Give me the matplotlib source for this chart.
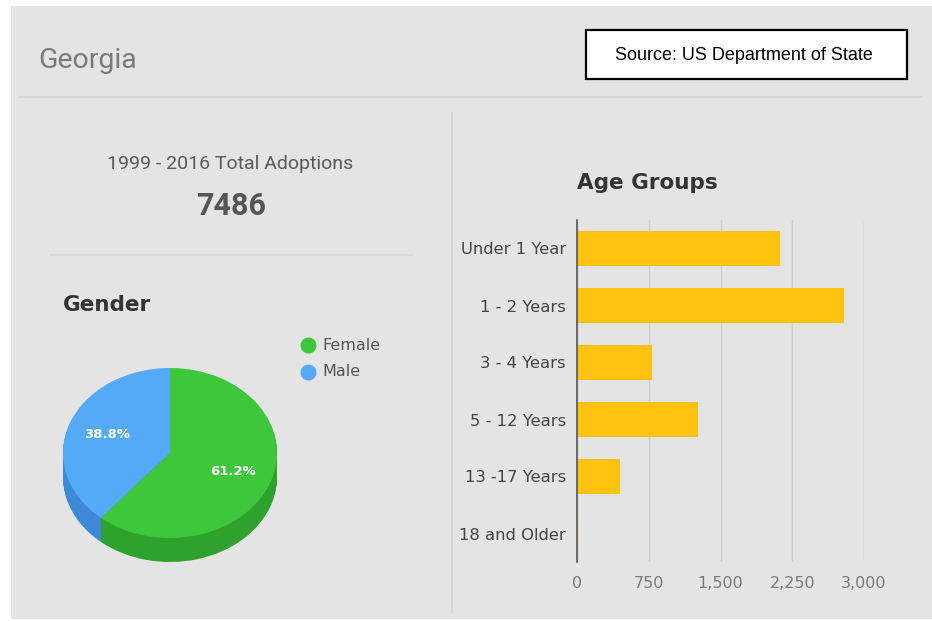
import matplotlib
matplotlib.use("Agg")
import matplotlib.pyplot as plt
from matplotlib.patches import Rectangle
import matplotlib.font_manager as fm

# ---- data ----
title = "Georgia"
source_text = "Source: US Department of State"
total_label = "1999 - 2016 Total Adoptions"
total_value = "7486"
gender_labels = ["Female", "Male"]
gender_pct = [61.2, 38.8]
age_groups = ["Under 1 Year", "1 - 2 Years", "3 - 4 Years", "5 - 12 Years",
              "13 -17 Years", "18 and Older"]
age_counts = [2122, 2793, 785, 1264, 451, 12]
x_ticks = [0, 750, 1500, 2250, 3000]

plt.rcParams["font.family"] = ["DejaVu Sans"]

W, H = 932, 621
fig = plt.figure(figsize=(W / 100, H / 100), dpi=100, facecolor="white")

def fx(px):
    return px / W

def fy(py):
    return 1 - py / H

BG = "#e4e4e4"
fig.add_artist(Rectangle((fx(11), fy(619)), fx(W - 11), (619 - 6) / H,
                         transform=fig.transFigure, facecolor=BG, edgecolor="none", zorder=0))

names = {f.name for f in fm.fontManager.ttflist}
narrow = "Liberation Sans Narrow" if "Liberation Sans Narrow" in names else "Roboto"

# title
fig.text(fx(38), fy(61), title, fontsize=20.5, color="#7a7a7a", family=narrow,
         va="center", ha="left")
# header separator
fig.add_artist(plt.Line2D([fx(20), fx(922)], [fy(97), fy(97)], transform=fig.transFigure,
                          color="#d6d6d6", lw=1.5))
# source box
fig.add_artist(Rectangle((fx(586), fy(79)), fx(907 - 586), (79 - 30) / H,
                         transform=fig.transFigure, facecolor="white",
                         edgecolor="black", lw=1.6, zorder=3))
fig.text(fx(744), fy(55), source_text, fontsize=13, color="black",
         family="Liberation Sans Narrow" if "Liberation Sans Narrow" in names else "Liberation Sans",
         ha="center", va="center", zorder=4)
# vertical divider
fig.add_artist(plt.Line2D([fx(452), fx(452)], [fy(113), fy(612)], transform=fig.transFigure,
                          color="#d6d6d6", lw=1.2))

# total adoptions
fig.text(fx(230), fy(164), total_label, fontsize=14, color="#5a5a5a", family=narrow,
         ha="center", va="center")
fig.text(fx(231), fy(206), total_value, fontsize=22, color="#555555", family=narrow,
         fontweight="semibold", ha="center", va="center")
fig.add_artist(plt.Line2D([fx(50), fx(412)], [fy(255), fy(255)], transform=fig.transFigure,
                          color="#d6d6d6", lw=1.2))

# ---- Gender pie (pseudo 3D) ----
fig.text(fx(63), fy(305), "Gender", fontsize=15.5, fontweight="bold", color="#333333",
         ha="left", va="center")

cx, cy, rx, ry, depth = 170, 453, 107, 85, 24
ax_l, ax_r, ax_t, ax_b = cx - rx, cx + rx, 355, 585
pax = fig.add_axes([fx(ax_l), fy(ax_b), fx(ax_r - ax_l), (ax_b - ax_t) / H])

top_colors = ["#3cc83a", "#55aaf7"]
side_colors = ["#2fa22d", "#3f8ad8"]
dy = depth / ry
n = 24
for i in range(n, 0, -1):
    off = dy * i / n
    pax.pie(gender_pct, startangle=90, counterclock=False, colors=side_colors,
            center=(0, -off), radius=1, wedgeprops=dict(linewidth=0),
            frame=True)
wedges, texts, autotexts = pax.pie(
    gender_pct, startangle=90, counterclock=False, colors=top_colors,
    center=(0, 0), radius=1, autopct="%1.1f%%", pctdistance=0.63,
    wedgeprops=dict(linewidth=0), frame=True,
    textprops=dict(color="white", fontsize=9.5, fontweight="semibold"))
pax.set_xlim(-1, 1)
pax.set_ylim(-(ax_b - cy) / ry, (cy - ax_t) / ry)
pax.set_aspect("auto")
pax.axis("off")

# legend
leg_y = [345, 372]
for lab, col, yy in zip(gender_labels, top_colors, leg_y):
    fig.add_artist(plt.Line2D([fx(308)], [fy(yy)], marker="o", markersize=10.5,
                              color=col, transform=fig.transFigure, lw=0))
    fig.text(fx(322), fy(yy), lab, fontsize=11.5, color="#555555", ha="left", va="center")

# ---- Age groups bar ----
bl, br, bt, bb = 577, 864, 220, 562
bax = fig.add_axes([fx(bl), fy(bb), fx(br - bl), (bb - bt) / H])
bax.set_facecolor("none")
ypos = list(range(len(age_groups)))
bax.barh(ypos, age_counts, height=0.61, color="#ffc20e", zorder=3)
bax.set_ylim(len(age_groups) - 0.5, -0.5)
bax.set_xlim(0, 3000)
bax.set_yticks(ypos)
bax.set_yticklabels(age_groups, fontsize=11.8, color="#444444")
bax.set_xticks(x_ticks)
bax.set_xticklabels([f"{v:,}" for v in x_ticks], fontsize=11.5, color="#7a7a7a")
bax.tick_params(axis="both", length=0)
bax.tick_params(axis="y", pad=8)
bax.tick_params(axis="x", pad=10)
bax.grid(axis="x", color="#cfcfcf", lw=1, zorder=0)
for s in ["top", "right", "bottom"]:
    bax.spines[s].set_visible(False)
bax.spines["left"].set_color("#555555")
bax.spines["left"].set_linewidth(1.2)
bax.spines["left"].set_zorder(4)
bax.set_title("Age Groups", fontsize=15.5, fontweight="bold", color="#333333",
              loc="left", pad=22)

fig.savefig("out.png", dpi=100, facecolor="white")
